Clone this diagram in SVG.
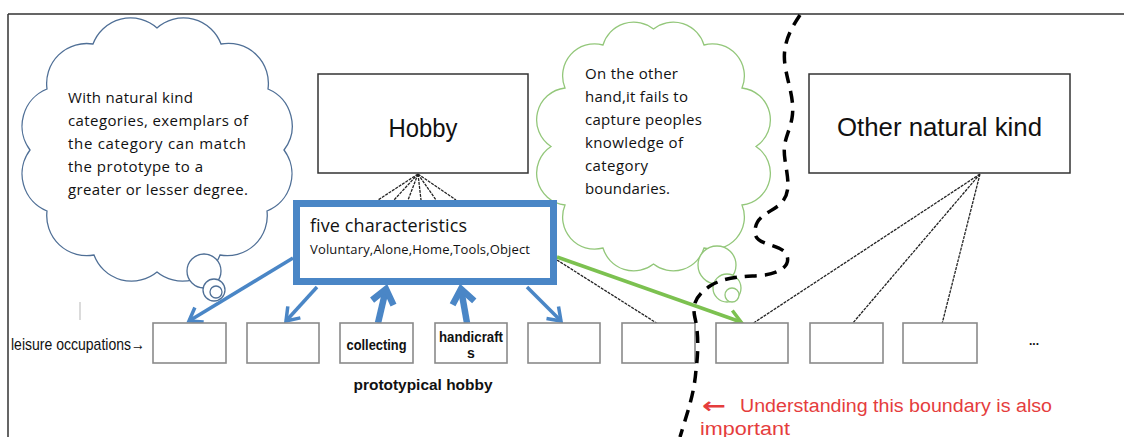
<svg xmlns="http://www.w3.org/2000/svg" width="1132" height="437" viewBox="0 0 1132 437">
<defs>
<style>
.frame{stroke:#333;stroke-width:1.5;fill:none}
.cloudL{fill:#fff;stroke:#4f6f96;stroke-width:1.3}
.cloudG{fill:#fff;stroke:#93c77a;stroke-width:1.3}
.big{fill:#fff;stroke:#333;stroke-width:1.5}
.small{fill:#fff;stroke:#8a8a8a;stroke-width:1.6}
.five{fill:#fff;stroke:#4a86c6;stroke-width:7}
.cl{font-family:"Open Sans","Liberation Sans",sans-serif;font-size:15px;fill:#111}
.lbl{font-family:"Liberation Sans",Arial,sans-serif;fill:#111}
.bold{font-family:"Liberation Sans",Arial,sans-serif;font-weight:bold;fill:#111}
.red{font-family:"Liberation Sans",Arial,sans-serif;fill:#e53d3d;font-size:18px}
.dot{stroke:#222;stroke-width:1.3;stroke-dasharray:3 1;fill:none}
.blue{stroke:#4a86c6;stroke-width:3.5;fill:none;marker-end:url(#bh)}
.blueT{stroke:#4a86c6;stroke-width:6.5;fill:none;marker-end:url(#bhT)}
.green{stroke:#7cc150;stroke-width:3.5;fill:none;marker-end:url(#gh)}
.bound{stroke:#000;stroke-width:3.5;stroke-dasharray:12 8;fill:none}
</style>
<marker id="bh" markerUnits="userSpaceOnUse" markerWidth="24" markerHeight="24" refX="14" refY="10" orient="auto" overflow="visible">
<path d="M2,1.5 L14,10 L2,18.5" fill="none" stroke="#4a86c6" stroke-width="3.5"/>
</marker>
<marker id="bhT" markerUnits="userSpaceOnUse" markerWidth="30" markerHeight="30" refX="16" refY="12" orient="auto" overflow="visible">
<path d="M2,1 L16,12 L2,23" fill="none" stroke="#4a86c6" stroke-width="6.5"/>
</marker>
<marker id="gh" markerUnits="userSpaceOnUse" markerWidth="24" markerHeight="24" refX="14" refY="10" orient="auto" overflow="visible">
<path d="M2,2 L14,10 L2,18" fill="none" stroke="#7cc150" stroke-width="3.5"/>
</marker>
</defs>
<rect x="0" y="0" width="1132" height="437" fill="#fff"/>
<g id="frame">
<path class="frame" d="M8,14 H1124 M8,14 V437"/>
<path d="M80,302 V320" stroke="#cfcfcf" stroke-width="1.5"/>
</g>
<g id="cloud-left">
<path class="cloudL" d="M157,28 A40,40 0 0 1 221,44 A40,40 0 0 1 268,89 A40,40 0 0 1 284,150 A40,40 0 0 1 267,211 A40,40 0 0 1 220,255 A40,40 0 0 1 157,272 A40,40 0 0 1 94,255 A40,40 0 0 1 47,211 A40,40 0 0 1 30,150 A40,40 0 0 1 47,89 A40,40 0 0 1 93,44 A40,40 0 0 1 157,28 Z"/>
<circle class="cloudL" cx="204" cy="271" r="17"/>
<circle class="cloudL" cx="214" cy="290" r="11"/>
<circle class="cloudL" cx="216" cy="292" r="6"/>
<text class="cl" x="68" y="103" textLength="125">With natural kind</text>
<text class="cl" x="68" y="126" textLength="180">categories, exemplars of</text>
<text class="cl" x="68" y="149" textLength="178">the category can match</text>
<text class="cl" x="68" y="172" textLength="135">the prototype to a</text>
<text class="cl" x="68" y="195" textLength="180">greater or lesser degree.</text>
</g>
<g id="cloud-right">
<path class="cloudG" d="M653.5,29 A32,32 0 0 1 704,45 A32,32 0 0 1 742,88 A32,32 0 0 1 756,146.5 A32,32 0 0 1 742,205 A32,32 0 0 1 704,248 A32,32 0 0 1 653.5,264 A32,32 0 0 1 603,248 A32,32 0 0 1 565,205 A32,32 0 0 1 551,146.5 A32,32 0 0 1 565,88 A32,32 0 0 1 603,45 A32,32 0 0 1 653.5,29 Z"/>
<circle class="cloudG" cx="717" cy="265" r="19"/>
<circle class="cloudG" cx="727" cy="288" r="14"/>
<circle class="cloudG" cx="732" cy="295" r="7"/>
<text class="cl" x="585" y="79" textLength="93">On the other</text>
<text class="cl" x="585" y="102" textLength="103">hand,it fails to</text>
<text class="cl" x="585" y="125" textLength="117">capture peoples</text>
<text class="cl" x="585" y="148" textLength="98">knowledge of</text>
<text class="cl" x="585" y="171" textLength="63">category</text>
<text class="cl" x="585" y="194" textLength="85">boundaries.</text>
</g>
<g id="connectors">
<path class="dot" d="M418,174 L378,200 M418,174 L394,200 M418,174 L408,200 M418,174 L421,200 M418,174 L436,200 M418,174 L456,200"/>
<path class="dot" d="M980,174 L752,324 M980,174 L852,324 M980,174 L942,324"/>
<path class="dot" d="M557,260 L658,324"/>
<path class="blue" d="M293,258 L189,321"/>
<path class="blue" d="M317,287 L286,321"/>
<path class="blueT" d="M378,323 L386,289"/>
<path class="blueT" d="M467,323 L461,289"/>
<path class="blue" d="M527,287 L561,321"/>
<path class="green" d="M557,257 L741,322"/>
</g>
<g id="hobby">
<rect class="big" x="318" y="74" width="210" height="99"/>
<text class="lbl" x="423" y="137" font-size="25" text-anchor="middle" textLength="69" lengthAdjust="spacingAndGlyphs">Hobby</text>
</g>
<g id="other-natural-kind">
<rect class="big" x="809" y="74" width="261" height="99"/>
<text class="lbl" x="837" y="136" font-size="26" textLength="205" lengthAdjust="spacingAndGlyphs">Other natural kind</text>
</g>
<g id="five-characteristics">
<rect class="five" x="296.5" y="203.5" width="257" height="78"/>
<text class="cl" x="310" y="232" style="font-size:18px" textLength="157">five characteristics</text>
<text class="cl" x="310" y="254" style="font-size:13px" textLength="220">Voluntary,Alone,Home,Tools,Object</text>
</g>
<g id="leisure-label">
<text class="lbl" x="11" y="350" font-size="17" textLength="134" lengthAdjust="spacingAndGlyphs">leisure occupations→</text>
</g>
<g id="box1"><rect class="small" x="153" y="323" width="73" height="40"/></g>
<g id="box2"><rect class="small" x="247" y="323" width="72" height="40"/></g>
<g id="box3"><rect class="small" x="340" y="323" width="73" height="40"/>
<text class="bold" x="376.5" y="350" font-size="14" text-anchor="middle" textLength="60" lengthAdjust="spacingAndGlyphs">collecting</text></g>
<g id="box4"><rect class="small" x="435" y="323" width="72" height="40"/>
<text class="bold" x="471" y="342" font-size="14" text-anchor="middle" textLength="64" lengthAdjust="spacingAndGlyphs">handicraft</text>
<text class="bold" x="471" y="358" font-size="14" text-anchor="middle">s</text></g>
<g id="box5"><rect class="small" x="528" y="323" width="72" height="40"/></g>
<g id="box6"><rect class="small" x="622" y="323" width="73" height="40"/></g>
<g id="box7"><rect class="small" x="716" y="323" width="72" height="40"/></g>
<g id="box8"><rect class="small" x="810" y="323" width="73" height="40"/></g>
<g id="box9"><rect class="small" x="903" y="323" width="74" height="40"/></g>
<g id="ellipsis"><text class="lbl" x="1034" y="345" font-size="12" font-weight="bold" fill="#666" text-anchor="middle">...</text></g>
<g id="prototypical-label">
<text class="bold" x="423" y="390" font-size="15" text-anchor="middle" textLength="139" lengthAdjust="spacingAndGlyphs">prototypical hobby</text>
</g>
<g id="boundary">
<path class="bound" d="M800,15 C790,30 782,45 785,65 C788,85 795,100 792,118 C789,135 782,140 785,160 C788,180 792,195 778,206 C765,215 755,218 755,232 C755,245 775,243 785,252 C792,262 785,272 765,275 C745,277 725,276 710,286 C695,296 692,305 695,318 C699,335 698,355 696,370 C694,395 688,410 680,437"/>
</g>
<g id="boundary-note">
<text x="702" y="413" font-family="'DejaVu Sans',sans-serif" font-weight="bold" font-size="22" fill="#e53d3d" textLength="24" lengthAdjust="spacingAndGlyphs">←</text>
<text class="red" x="740" y="412" textLength="312" lengthAdjust="spacingAndGlyphs">Understanding this boundary is also</text>
<text class="red" x="700" y="435" textLength="90" lengthAdjust="spacingAndGlyphs">important</text>
</g>
</svg>
